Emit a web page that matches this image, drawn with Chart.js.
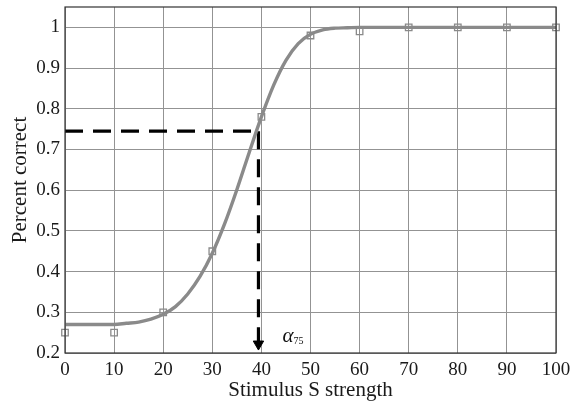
<!DOCTYPE html>
<html>
<head>
<meta charset="utf-8">
<script src="https://cdn.jsdelivr.net/npm/chart.js@4/dist/chart.umd.min.js"></script>
<style>
  html, body { margin: 0; padding: 0; background: #fff; }
  #wrap { width: 571px; height: 403px; position: relative; }
</style>
</head>
<body>
<div id="wrap"><canvas id="c" width="571" height="403"></canvas></div>
<script>
// ---- data ----
const stimulusLevels = [0, 10, 20, 30, 40, 50, 60, 70, 80, 90, 100];
const observedCorrect = [0.25, 0.25, 0.30, 0.45, 0.78, 0.98, 0.99, 1.0, 1.0, 1.0, 1.0];

const fitX = [0, 5, 10, 12.5, 15, 17.5, 20, 22.5, 25, 27.5, 30, 32.5, 35, 37.5, 40, 42.5, 45, 47.5, 50, 52.5, 55, 57.5, 60, 70, 80, 90, 100];
const fitY = [0.27, 0.27, 0.27, 0.273, 0.276, 0.283, 0.295, 0.314, 0.345, 0.388, 0.445, 0.517, 0.601, 0.692, 0.78, 0.858, 0.919, 0.96, 0.983, 0.994, 0.998, 0.999, 1.0, 1.0, 1.0, 1.0, 1.0];

const thresholdX = 39.4;     // alpha_75
const thresholdY = 0.745;
const arrowTipY = 0.222;

const xTicks = [0, 10, 20, 30, 40, 50, 60, 70, 80, 90, 100];
const yTicks = [0.2, 0.3, 0.4, 0.5, 0.6, 0.7, 0.8, 0.9, 1.0];

const xTitle = 'Stimulus S strength';
const yTitle = 'Percent correct';
const alphaLabel = 'α';
const alphaSub = '75';

// ---- chart ----
const serif = "'Liberation Serif', 'DejaVu Serif', serif";

const frame = {
  id: 'frame',
  afterDatasetsDraw(chart) {
    const { ctx, chartArea: a, scales } = chart;
    ctx.save();
    ctx.strokeStyle = '#333';
    ctx.lineWidth = 1.2;
    ctx.strokeRect(a.left, a.top, a.right - a.left, a.bottom - a.top);
    // alpha label
    const px = scales.x.getPixelForValue(thresholdX) + 24;
    const py = scales.y.getPixelForValue(0.2) - 11;
    ctx.fillStyle = '#111';
    ctx.font = "italic 21px " + serif;
    ctx.textBaseline = 'alphabetic';
    ctx.fillText(alphaLabel, px, py);
    const w = ctx.measureText(alphaLabel).width;
    ctx.font = "10px " + serif;
    ctx.fillText(alphaSub, px + w, py + 2);
    ctx.restore();
  }
};

function noPad(s) { s.paddingTop = 0; s.paddingBottom = 0; s.paddingLeft = 0; s.paddingRight = 0; }

new Chart(document.getElementById('c'), {
  type: 'scatter',
  data: {
    datasets: [
      {
        label: 'h-dash',
        data: [{ x: 0, y: thresholdY }, { x: thresholdX, y: thresholdY }],
        showLine: true,
        borderColor: '#000',
        borderWidth: 3.2,
        borderDash: [18, 10],
        pointRadius: 0,
        order: 3
      },
      {
        label: 'v-dash',
        data: [{ x: thresholdX, y: thresholdY }, { x: thresholdX, y: arrowTipY }],
        showLine: true,
        borderColor: '#000',
        borderWidth: 3.2,
        borderDash: [18, 10],
        pointRadius: 0,
        order: 3
      },
      {
        label: 'arrow',
        data: [{ x: thresholdX, y: arrowTipY }],
        pointStyle: 'triangle',
        rotation: 180,
        pointRadius: 6,
        backgroundColor: '#000',
        borderColor: '#000',
        borderWidth: 1,
        order: 3
      },
      {
        label: 'fit',
        data: fitX.map((x, i) => ({ x, y: fitY[i] })),
        showLine: true,
        borderColor: '#8a8a8a',
        borderWidth: 3.4,
        cubicInterpolationMode: 'monotone',
        pointRadius: 0,
        order: 2
      },
      {
        label: 'observed',
        data: stimulusLevels.map((x, i) => ({ x, y: observedCorrect[i] })),
        pointStyle: 'rect',
        pointRadius: 4.6,
        backgroundColor: 'rgba(255,255,255,0)',
        borderColor: '#8a8a8a',
        borderWidth: 1.3,
        clip: false,
        order: 1
      }
    ]
  },
  options: {
    responsive: false,
    animation: false,
    devicePixelRatio: 1,
    layout: { padding: { left: 0, right: 15, top: 7, bottom: 0 } },
    plugins: { legend: { display: false }, tooltip: { enabled: false } },
    scales: {
      x: {
        type: 'linear',
        min: 0, max: 100,
        afterBuildTicks(s) { s.ticks = xTicks.map(v => ({ value: v })); },
        afterFit(s) { s.height = 50; noPad(s); },
        grid: { color: '#939393', lineWidth: 1, drawTicks: false },
        border: { display: false },
        ticks: {
          color: '#1a1a1a',
          font: { family: serif, size: 19 },
          padding: 6,
          maxRotation: 0,
          callback: v => String(v)
        },
        title: {
          display: true,
          text: xTitle,
          color: '#1a1a1a',
          font: { family: serif, size: 21 },
          padding: { top: -5, bottom: 0 }
        }
      },
      y: {
        type: 'linear',
        min: 0.2, max: 1.05,
        afterBuildTicks(s) { s.ticks = yTicks.map(v => ({ value: v })); },
        afterFit(s) { s.width = 65; noPad(s); },
        grid: { color: '#939393', lineWidth: 1, drawTicks: false },
        border: { display: false },
        ticks: {
          color: '#1a1a1a',
          font: { family: serif, size: 19 },
          padding: 5,
          callback: v => String(Math.round(v * 10) / 10)
        },
        title: {
          display: true,
          text: yTitle,
          color: '#1a1a1a',
          font: { family: serif, size: 21 },
          padding: { top: 8, bottom: 0 }
        }
      }
    }
  },
  plugins: [frame]
});
</script>
</body>
</html>
